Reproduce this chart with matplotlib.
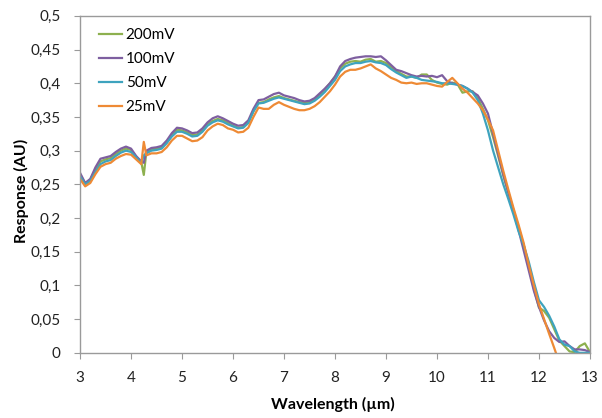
import numpy as np
import matplotlib
matplotlib.use("Agg")
import matplotlib.pyplot as plt
from matplotlib.ticker import FuncFormatter, MultipleLocator

plt.rcParams['font.family'] = ['Lato', 'DejaVu Sans']

# wavelength grid (um), with one extra point at the 4.25 um glitch
wavelength = [3.0, 3.1, 3.2, 3.3, 3.4, 3.5, 3.6, 3.7, 3.8, 3.9,
              4.0, 4.1, 4.2, 4.25, 4.3, 4.4, 4.5, 4.6, 4.7, 4.8, 4.9,
              5.0, 5.1, 5.2, 5.3, 5.4, 5.5, 5.6, 5.7, 5.8, 5.9,
              6.0, 6.1, 6.2, 6.3, 6.4, 6.5, 6.6, 6.7, 6.8, 6.9,
              7.0, 7.1, 7.2, 7.3, 7.4, 7.5, 7.6, 7.7, 7.8, 7.9,
              8.0, 8.1, 8.2, 8.3, 8.4, 8.5, 8.6, 8.7, 8.8, 8.9,
              9.0, 9.1, 9.2, 9.3, 9.4, 9.5, 9.6, 9.7, 9.8, 9.9,
              10.0, 10.1, 10.2, 10.3, 10.4, 10.5, 10.6, 10.7, 10.8, 10.9,
              11.0, 11.1, 11.2, 11.3, 11.4, 11.5, 11.6, 11.7, 11.8, 11.9,
              12.0, 12.1, 12.2, 12.3, 12.4, 12.5, 12.6, 12.7, 12.8, 12.9,
              13.0]

resp_200mV = [0.265, 0.251, 0.257, 0.272, 0.284, 0.287, 0.289, 0.295, 0.300, 0.303,
              0.301, 0.291, 0.283, 0.264, 0.298, 0.302, 0.303, 0.305, 0.313, 0.323, 0.331,
              0.330, 0.327, 0.323, 0.324, 0.330, 0.339, 0.344, 0.347, 0.345, 0.341,
              0.337, 0.334, 0.335, 0.342, 0.359, 0.371, 0.372, 0.376, 0.379, 0.381,
              0.378, 0.376, 0.374, 0.372, 0.371, 0.372, 0.376, 0.383, 0.391, 0.400,
              0.410, 0.422, 0.429, 0.432, 0.433, 0.432, 0.435, 0.436, 0.432, 0.433,
              0.430, 0.424, 0.418, 0.414, 0.410, 0.410, 0.408, 0.413, 0.413, 0.405,
              0.401, 0.399, 0.398, 0.401, 0.399, 0.386, 0.388, 0.388, 0.378, 0.362,
              0.345, 0.320, 0.292, 0.263, 0.237, 0.212, 0.186, 0.160, 0.128, 0.095,
              0.067, 0.062, 0.052, 0.035, 0.018, 0.010, 0.002, 0.001, 0.010, 0.014,
              0.001]

resp_100mV = [0.267, 0.252, 0.258, 0.275, 0.288, 0.290, 0.292, 0.298, 0.303, 0.306,
              0.303, 0.292, 0.284, 0.282, 0.300, 0.304, 0.305, 0.307, 0.315, 0.326, 0.334,
              0.333, 0.330, 0.326, 0.327, 0.333, 0.342, 0.348, 0.351, 0.348, 0.344,
              0.340, 0.337, 0.338, 0.345, 0.362, 0.375, 0.376, 0.380, 0.384, 0.386,
              0.382, 0.380, 0.378, 0.375, 0.373, 0.374, 0.378, 0.385, 0.392, 0.400,
              0.410, 0.425, 0.433, 0.436, 0.438, 0.439, 0.440, 0.440, 0.439, 0.440,
              0.434, 0.427, 0.420, 0.418, 0.415, 0.412, 0.410, 0.411, 0.410, 0.411,
              0.409, 0.412, 0.403, 0.400, 0.398, 0.396, 0.392, 0.387, 0.382, 0.370,
              0.355, 0.325, 0.295, 0.265, 0.238, 0.210, 0.182, 0.152, 0.122, 0.092,
              0.068, 0.048, 0.032, 0.022, 0.016, 0.017, 0.010, 0.005, 0.005, 0.004,
              0.001]

resp_50mV = [0.262, 0.250, 0.255, 0.268, 0.280, 0.284, 0.286, 0.292, 0.297, 0.300,
             0.298, 0.290, 0.282, 0.293, 0.296, 0.300, 0.301, 0.303, 0.311, 0.321, 0.328,
             0.328, 0.325, 0.321, 0.322, 0.328, 0.337, 0.342, 0.345, 0.343, 0.339,
             0.336, 0.333, 0.334, 0.341, 0.358, 0.370, 0.371, 0.374, 0.377, 0.379,
             0.377, 0.375, 0.373, 0.371, 0.369, 0.370, 0.374, 0.380, 0.387, 0.396,
             0.405, 0.418, 0.425, 0.428, 0.430, 0.430, 0.432, 0.433, 0.431, 0.430,
             0.427, 0.421, 0.416, 0.412, 0.408, 0.410, 0.408, 0.405, 0.404, 0.403,
             0.402, 0.400, 0.400, 0.399, 0.398, 0.396, 0.392, 0.386, 0.375, 0.355,
             0.330, 0.300, 0.275, 0.250, 0.228, 0.205, 0.180, 0.160, 0.135, 0.105,
             0.078, 0.068, 0.055, 0.039, 0.020, 0.012, 0.010, 0.002, 0.0, 0.0,
             0.0]

resp_25mV = [0.258, 0.247, 0.252, 0.265, 0.276, 0.280, 0.282, 0.288, 0.292, 0.295,
             0.294, 0.287, 0.280, 0.313, 0.293, 0.296, 0.296, 0.298, 0.305, 0.315, 0.322,
             0.322, 0.318, 0.314, 0.315, 0.320, 0.330, 0.336, 0.340, 0.338, 0.333,
             0.331, 0.327, 0.328, 0.334, 0.350, 0.364, 0.362, 0.362, 0.368, 0.372,
             0.368, 0.365, 0.362, 0.360, 0.360, 0.362, 0.366, 0.372, 0.380, 0.388,
             0.398, 0.410, 0.417, 0.420, 0.420, 0.422, 0.425, 0.428, 0.422, 0.418,
             0.413, 0.408, 0.405, 0.401, 0.400, 0.401, 0.399, 0.400, 0.400, 0.398,
             0.396, 0.395, 0.402, 0.408, 0.400, 0.392, 0.386, 0.378, 0.370, 0.360,
             0.346, 0.330, 0.300, 0.270, 0.242, 0.215, 0.190, 0.163, 0.130, 0.100,
             0.072, 0.050, 0.028, 0.007, -0.015, np.nan, np.nan, np.nan, np.nan, np.nan,
             np.nan]

series = [("200mV", resp_200mV, "#8DB04F"),
          ("100mV", resp_100mV, "#7E5FA0"),
          ("50mV", resp_50mV, "#3EA3BE"),
          ("25mV", resp_25mV, "#EE8A35")]

fig = plt.figure(figsize=(6.02, 4.18), dpi=100)
ax = fig.add_axes([0.133, 0.156, 0.847, 0.806])

for label, values, color in series:
    ax.plot(wavelength, values, color=color, lw=1.6, label=label)

ax.set_xlim(3, 13)
ax.set_ylim(0, 0.5)
ax.xaxis.set_major_locator(MultipleLocator(1))
ax.yaxis.set_major_locator(MultipleLocator(0.05))
ax.yaxis.set_major_formatter(FuncFormatter(lambda v, p: f"{v:.2f}".rstrip('0').rstrip('.').replace('.', ',')))

for side in ax.spines.values():
    side.set_color("#9a9a9a")
    side.set_linewidth(1.0)
ax.tick_params(direction='out', length=4, color="#9a9a9a", labelsize=11,
               labelcolor="#222222")
ax.tick_params(axis='x', pad=9)
ax.tick_params(axis='y', pad=10)

ax.set_xlabel("Wavelength (\u00b5m)", fontsize=11.5, fontweight='bold', va='center')
ax.set_ylabel("Response (AU)", fontsize=11.5, fontweight='bold', va='center')
ax.xaxis.set_label_coords(0.496, -0.154)
ax.yaxis.set_label_coords(-0.114, 0.48)

ax.legend(loc='upper left', bbox_to_anchor=(0.01, 1.005), frameon=False, fontsize=11,
          handlelength=1.5, handletextpad=0.25, labelspacing=0.66)

fig.savefig("out.png", dpi=100)
